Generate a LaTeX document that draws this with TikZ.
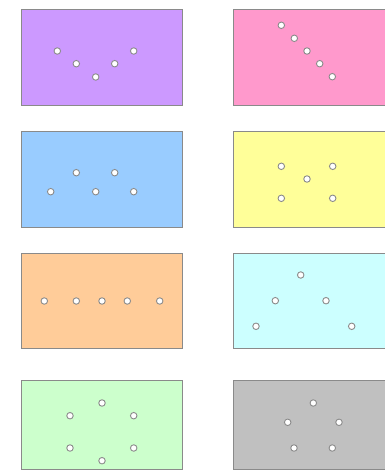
\documentclass[tikz,border=0pt]{standalone}
\usepackage{xcolor}
\definecolor{cpurple}{HTML}{CC99FF}
\definecolor{cpink}{HTML}{FF99CC}
\definecolor{cblue}{HTML}{99CCFF}
\definecolor{cyellow}{HTML}{FFFF99}
\definecolor{corange}{HTML}{FFCC99}
\definecolor{ccyan}{HTML}{CCFFFF}
\definecolor{cgreen}{HTML}{CCFFCC}
\definecolor{cgray}{HTML}{C0C0C0}
\definecolor{edge}{HTML}{8A8A8A}
\tikzset{
  panel/.style={draw=edge, line width=1pt},
  dot/.style={circle, draw=edge, fill=white, line width=0.9pt, minimum size=6.5pt, inner sep=0pt}
}
\begin{document}
\begin{tikzpicture}[x=1pt,y=-1pt]
\useasboundingbox (0,0) rectangle (385,476);
% panels
\draw[panel, fill=cpurple] (21.5,9.5) rectangle (182.3,105.5);
\draw[panel, fill=cpink] (233.5,9.5) rectangle (394,105.5);
\draw[panel, fill=cblue] (21.5,131.5) rectangle (182.3,227);
\draw[panel, fill=cyellow] (233.5,131.5) rectangle (394,227);
\draw[panel, fill=corange] (21.5,253) rectangle (182.3,348.7);
\draw[panel, fill=ccyan] (233.5,253) rectangle (394,348.7);
\draw[panel, fill=cgreen] (21.5,380.7) rectangle (182.3,469.8);
\draw[panel, fill=cgray] (233.5,380.7) rectangle (394,469.8);
% purple: V
\foreach \x/\y [count=\i] in {57.3/51,76.3/63.7,95.7/77,114.7/63.7,133.7/51}
  \node[dot] (pu\i) at (\x,\y) {};
% pink: diagonal
\foreach \x/\y [count=\i] in {281.3/25.3,294.3/38.3,307/51,319.7/63.7,332.3/76.7}
  \node[dot] (pk\i) at (\x,\y) {};
% blue
\foreach \x/\y [count=\i] in {76.3/172.7,114.7/172.7,50.7/191.7,95.7/191.7,133.7/191.7}
  \node[dot] (bl\i) at (\x,\y) {};
% yellow
\foreach \x/\y [count=\i] in {281.3/166.3,332.7/166.3,307/179,281.3/198.3,332.7/198.3}
  \node[dot] (ye\i) at (\x,\y) {};
% orange
\foreach \x/\y [count=\i] in {44.3/301,76.3/301,102/301,127.3/301,159.7/301}
  \node[dot] (or\i) at (\x,\y) {};
% cyan
\foreach \x/\y [count=\i] in {300.7/275,275.3/300.7,326/300.7,256/326.3,351.7/326.3}
  \node[dot] (cy\i) at (\x,\y) {};
% green
\foreach \x/\y [count=\i] in {102/403,70/415.7,133.7/415.7,70/448,133.7/448,102/460.7}
  \node[dot] (gr\i) at (\x,\y) {};
% gray
\foreach \x/\y [count=\i] in {313.3/403,287.7/422.3,339/422.3,294/448,332.3/448}
  \node[dot] (gy\i) at (\x,\y) {};
\end{tikzpicture}
\end{document}
